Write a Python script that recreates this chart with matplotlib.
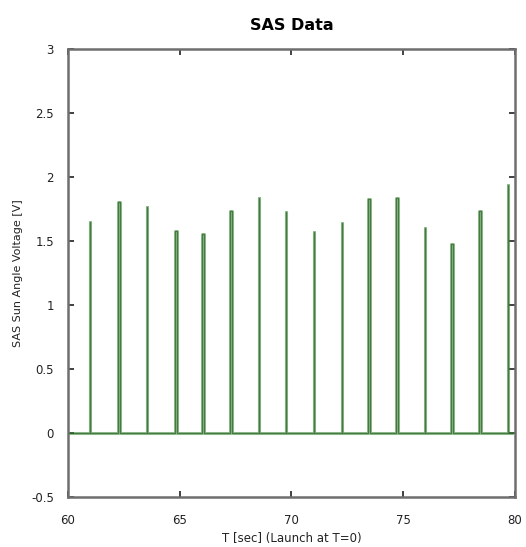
import numpy as np
import matplotlib
matplotlib.use("Agg")
import matplotlib.pyplot as plt

# pulse start times [s], peak voltages [V], pulse widths [s]
pulse_t = [60.97, 62.25, 63.53, 64.80, 66.02, 67.27, 68.54, 69.74, 70.99,
           72.25, 73.44, 74.69, 75.96, 77.15, 78.40, 79.68]
pulse_v = [1.65, 1.81, 1.77, 1.58, 1.56, 1.74, 1.84, 1.73, 1.57,
           1.64, 1.83, 1.84, 1.60, 1.48, 1.74, 1.94]
pulse_w = [0.02, 0.09, 0.02, 0.09, 0.09, 0.09, 0.02, 0.02, 0.02,
           0.02, 0.09, 0.09, 0.02, 0.09, 0.09, 0.03]

t_start, t_end = 60.1, 79.85

# build the square pulse trace
xs = [t_start]
ys = [0.0]
for t, v, w in zip(pulse_t, pulse_v, pulse_w):
    xs += [t, t, t + w, t + w]
    ys += [0.0, v, v, 0.0]
xs.append(t_end)
ys.append(0.0)

fig = plt.figure(figsize=(5.26, 5.47), dpi=100)
ax = fig.add_axes([0.129, 0.091, 0.850, 0.819])

ax.plot(xs, ys, color='#3f8a3a', lw=2.2, alpha=0.55)
ax.plot(xs, ys, color='#2a6324', lw=0.9, alpha=0.75)

ax.set_xlim(60, 80)
ax.set_ylim(-0.5, 3)
ax.set_xticks([60, 65, 70, 75, 80])
ax.set_yticks([-0.5, 0, 0.5, 1, 1.5, 2, 2.5, 3])
ax.set_yticklabels(['-0.5', '0', '0.5', '1', '1.5', '2', '2.5', '3'])
ax.tick_params(direction='in', length=4.5, width=1.3, color='#333333',
               top=True, right=True, labelsize=8.5, labelcolor='#222222')
ax.tick_params(axis='x', pad=12)
ax.tick_params(axis='y', pad=10)
for s in ax.spines.values():
    s.set_color('#6e6e6e')
    s.set_linewidth(1.8)

ax.set_xlabel('T [sec] (Launch at T=0)', fontsize=8.5, color='#222222', labelpad=4)
ax.set_ylabel('SAS Sun Angle Voltage [V]', fontsize=8, color='#222222', labelpad=6)
ax.set_title('SAS Data', fontsize=11.5, fontweight='bold', pad=14)

fig.savefig('out.png', dpi=100)
